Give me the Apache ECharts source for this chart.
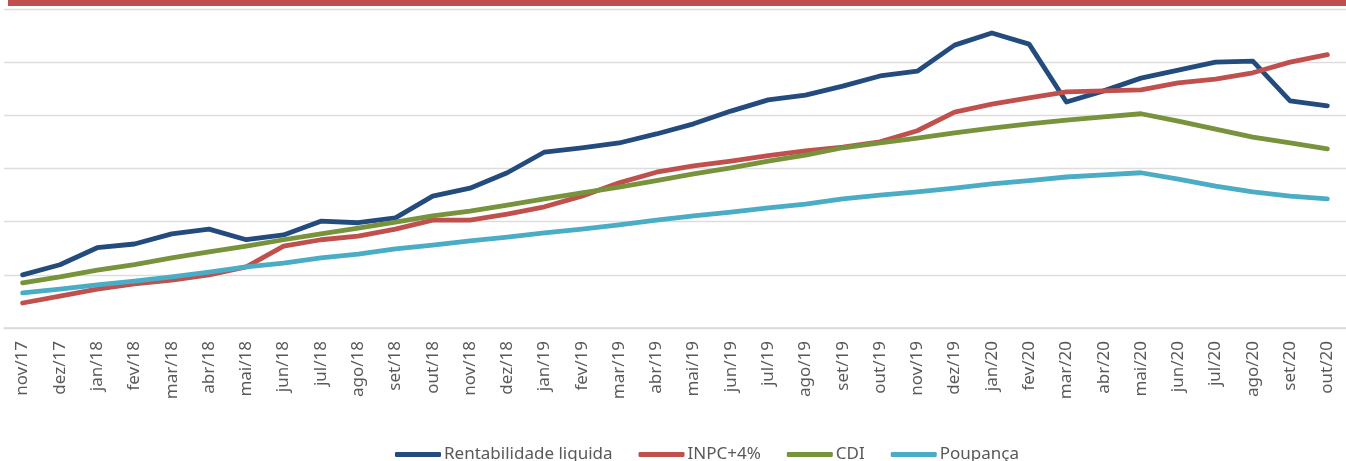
<!DOCTYPE html>
<html>
<head>
<meta charset="utf-8">
<script src="https://cdn.jsdelivr.net/npm/echarts@6/dist/echarts.min.js"></script>
<style>
  html, body { margin: 0; padding: 0; background: #fff; }
  #chart { width: 1346px; height: 461px; }
</style>
</head>
<body>
<div id="chart"></div>
<script>
const months = ['nov/17', 'dez/17', 'jan/18', 'fev/18', 'mar/18', 'abr/18', 'mai/18', 'jun/18', 'jul/18',
  'ago/18', 'set/18', 'out/18', 'nov/18', 'dez/18', 'jan/19', 'fev/19', 'mar/19', 'abr/19', 'mai/19',
  'jun/19', 'jul/19', 'ago/19', 'set/19', 'out/19', 'nov/19', 'dez/19', 'jan/20', 'fev/20', 'mar/20',
  'abr/20', 'mai/20', 'jun/20', 'jul/20', 'ago/20', 'set/20', 'out/20']

const rentabilidade = [10.0, 11.9, 15.1, 15.8, 17.7, 18.6, 16.6, 17.5, 20.1, 19.8, 20.7, 24.8, 26.3, 29.2,
  33.1, 33.9, 34.8, 36.5, 38.4, 40.8, 42.9, 43.8, 45.5, 47.4, 48.3, 53.2, 55.5, 53.4, 42.5, 44.6,
  47.0, 48.5, 50.0, 50.2, 42.7, 41.8]
const inpc = [4.7, 6.0, 7.3, 8.3, 9.0, 10.0, 11.5, 15.4, 16.6, 17.3, 18.6, 20.3, 20.3, 21.4, 22.8, 24.8,
  27.3, 29.3, 30.5, 31.4, 32.4, 33.3, 34.0, 35.0, 37.1, 40.6, 42.1, 43.3, 44.4, 44.6, 44.8, 46.1,
  46.8, 48.0, 50.0, 51.4]
const cdi = [8.5, 9.6, 10.9, 11.9, 13.2, 14.3, 15.4, 16.6, 17.7, 18.8, 19.9, 21.1, 22.0, 23.1, 24.3, 25.4,
  26.5, 27.7, 29.0, 30.1, 31.4, 32.5, 33.9, 34.8, 35.7, 36.7, 37.6, 38.4, 39.1, 39.7, 40.3, 38.9,
  37.4, 35.9, 34.8, 33.7]
const poupanca = [6.6, 7.3, 8.1, 8.8, 9.6, 10.5, 11.5, 12.2, 13.2, 13.9, 14.9, 15.6, 16.4, 17.1, 17.9, 18.6,
  19.4, 20.3, 21.1, 21.8, 22.6, 23.3, 24.3, 25.0, 25.6, 26.3, 27.1, 27.7, 28.4, 28.8, 29.2, 28.0,
  26.7, 25.6, 24.8, 24.3]

const names = ['Rentabilidade liquida', 'INPC+4%', 'CDI', 'Poupança']
const colors = ['#234B7E', '#C0504D', '#77933C', '#4BACC6']
const values = [rentabilidade, inpc, cdi, poupanca]

const font = '"Noto Sans", sans-serif'

const chart = echarts.init(document.getElementById('chart'))
chart.setOption({
  animation: false,
  color: colors,
  graphic: [{
    type: 'rect',
    shape: { x: 8, y: 0, width: 1338, height: 6 },
    style: { fill: '#C0504D' }
  }],
  grid: { left: 4, right: -4, top: 9, bottom: 133 },
  legend: {
    left: 390,
    top: 441,
    icon: 'roundRect',
    itemWidth: 46,
    itemHeight: 5,
    itemGap: 26,
    textStyle: { color: '#595959', fontSize: 17, fontFamily: font, padding: [0, 0, 0, -2] },
    data: names
  },
  xAxis: {
    type: 'category',
    data: months,
    boundaryGap: true,
    axisLine: { lineStyle: { color: '#D9D9D9', width: 1.5 } },
    axisTick: { length: 6, lineStyle: { color: '#D9D9D9', width: 1.5 } },
    axisLabel: { rotate: 90, interval: 0, margin: 13, color: '#595959', fontSize: 17, fontFamily: font }
  },
  yAxis: {
    type: 'value',
    min: 0,
    max: 60,
    interval: 10,
    axisLabel: { show: false },
    axisLine: { show: false },
    axisTick: { show: false },
    splitLine: { lineStyle: { color: '#DDDDDD', width: 1.3 } }
  },
  series: names.map((name, i) => ({
    name: name,
    type: 'line',
    data: values[i],
    symbol: 'none',
    lineStyle: { width: 4.8, color: colors[i], cap: 'round', join: 'round' }
  }))
})
</script>
</body>
</html>
